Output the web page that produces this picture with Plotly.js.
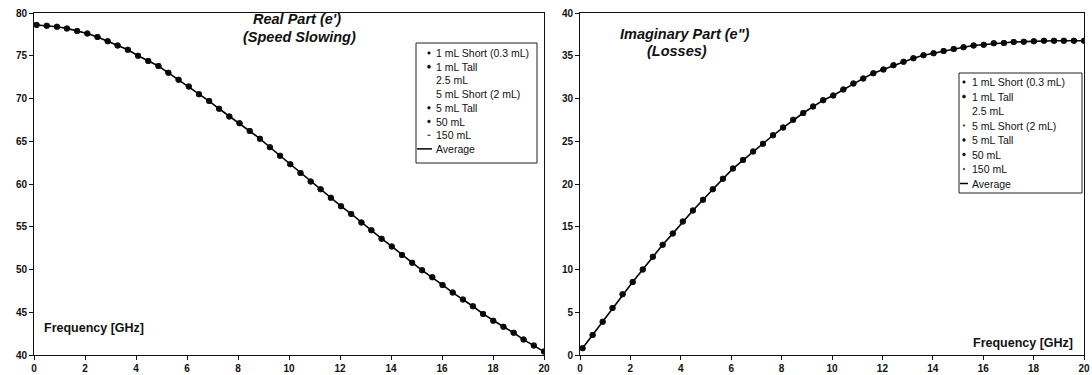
<!DOCTYPE html>
<html><head><meta charset="utf-8">
<script src="https://cdn.plot.ly/plotly-3.0.1.min.js"></script>
<style>html,body{margin:0;padding:0;background:#fff;}#c{width:1092px;height:375px;}</style>
</head><body><div id="c"></div>
<script>
const freq = [0.1,0.5,0.9,1.29,1.69,2.09,2.49,2.89,3.28,3.68,4.08,4.48,4.88,5.27,5.67,6.07,6.47,6.87,7.26,7.66,8.06,8.46,8.86,9.25,9.65,10.05,10.45,10.85,11.24,11.64,12.04,12.44,12.84,13.23,13.63,14.03,14.43,14.83,15.22,15.62,16.02,16.42,16.82,17.21,17.61,18.01,18.41,18.81,19.2,19.6,20.0];
const realPart = [78.6,78.5,78.4,78.2,77.9,77.6,77.2,76.7,76.2,75.7,75.0,74.4,73.8,73.0,72.2,71.4,70.5,69.7,68.8,67.9,67.1,66.2,65.3,64.3,63.3,62.3,61.3,60.3,59.4,58.4,57.4,56.5,55.5,54.6,53.6,52.7,51.7,50.8,49.9,49.1,48.2,47.3,46.5,45.7,44.8,44.0,43.3,42.6,41.8,41.1,40.4];
const imagPart = [0.8,2.35,3.9,5.5,7.1,8.55,10.0,11.5,12.9,14.2,15.6,16.9,18.15,19.4,20.6,21.8,22.8,23.8,24.7,25.7,26.6,27.5,28.3,29.05,29.8,30.35,31.05,31.75,32.35,32.95,33.4,33.9,34.3,34.7,35.05,35.3,35.55,35.8,36.0,36.2,36.3,36.45,36.5,36.6,36.65,36.7,36.75,36.75,36.75,36.75,36.75];
const seriesNames = ["1 mL Short (0.3 mL)","1 mL Tall","2.5 mL","5 mL Short (2 mL)","5 mL Tall","50 mL","150 mL"];
const averageName = "Average";
const xTicks = [0,2,4,6,8,10,12,14,16,18,20];

// marker style per series: [symbol, size] ; size 0 = not visible
const seriesMarks = [["circle",3],["square",3],["circle",0],["circle",0],["x-thin-open",3],["circle",3.5],["line-ew-open",4]];
// legend glyph: dot radius, or 'dash'
const legLeftGlyph  = [1.3,1.6,0,0,1.4,1.4,'dash'];
const legRightGlyph = [1.3,1.6,0,0.8,1.4,1.4,0.8];

const traces = [];
function addSet(y, xa, ya){
  seriesNames.forEach((n,i)=>{
    traces.push({x:freq, y:y, xaxis:xa, yaxis:ya, name:n, mode:'markers', type:'scatter', showlegend:false,
      marker:{symbol:seriesMarks[i][0], size:seriesMarks[i][1], color:'#111', line:{color:'#111', width:seriesMarks[i][0].indexOf('open')>0?1:0}}, hoverinfo:'skip'});
  });
  traces.push({x:freq, y:y, xaxis:xa, yaxis:ya, name:averageName, mode:'lines', type:'scatter', showlegend:false,
    line:{color:'#000', width:1.6}, hoverinfo:'skip'});
}
addSet(realPart,'x','y');
addSet(imagPart,'x2','y2');

const W=1056, H=342, L=34, T=13;
const px = v => (v-L)/W, py = v => 1-(v-T)/H;
const FF = 'Arial, Liberation Sans, sans-serif';
const axFont = {family:FF, size:10, color:'#111', weight:'bold'};
const axBase = {showline:true, mirror:true, linecolor:'#111', linewidth:1, ticks:'outside', ticklen:4, tickcolor:'#111',
  showgrid:false, zeroline:false, tickfont:axFont, fixedrange:true, ticklabeloverflow:'allow'};
const tFont = {family:FF, size:14.5, color:'#111', weight:'bold', style:'italic'};
const fFont = {family:FF, size:12.5, color:'#111', weight:'bold'};
const lFont = {family:FF, size:10.5, color:'#111'};

const shapes = [], annotations = [];
function legendBox(x0, y0, x1, y1, glyphs, gx, tx, row0, step){
  shapes.push({type:'rect', xref:'paper', yref:'paper', x0:px(x0), x1:px(x1), y0:py(y0), y1:py(y1),
    line:{color:'#222', width:1}, fillcolor:'#fff', layer:'above'});
  const names = seriesNames.concat([averageName]);
  names.forEach((n,i)=>{
    const yy = row0 + i*step;
    annotations.push({xref:'paper', yref:'paper', x:px(tx), y:py(yy), xanchor:'left', yanchor:'middle',
      text:n, showarrow:false, font:lFont});
    if (i < glyphs.length){
      const g = glyphs[i];
      if (g === 'dash'){
        shapes.push({type:'line', xref:'paper', yref:'paper', x0:px(gx-1.5), x1:px(gx+1.5), y0:py(yy), y1:py(yy), line:{color:'#111', width:1}, layer:'above'});
      } else if (g > 0){
        shapes.push({type:'circle', xref:'paper', yref:'paper', x0:px(gx-g), x1:px(gx+g), y0:py(yy-g), y1:py(yy+g), fillcolor:'#111', line:{color:'#111', width:0.5}, layer:'above'});
      }
    } else {
      shapes.push({type:'line', xref:'paper', yref:'paper', x0:px(x0+1), x1:px(tx-2), y0:py(yy), y1:py(yy), line:{color:'#000', width:1.5}, layer:'above'});
    }
  });
}
legendBox(416, 43, 537, 163, legLeftGlyph, 429, 434, 53, 13.7);
legendBox(959, 73, 1082, 193, legRightGlyph, 964, 970, 82, 14.5);

annotations.push(
  {xref:'paper', yref:'paper', x:px(297), y:py(19), xanchor:'center', yanchor:'middle', text:"Real Part (e')", showarrow:false, font:tFont},
  {xref:'paper', yref:'paper', x:px(299), y:py(37), xanchor:'center', yanchor:'middle', text:"(Speed Slowing)", showarrow:false, font:tFont},
  {xref:'paper', yref:'paper', x:px(685), y:py(34), xanchor:'center', yanchor:'middle', text:'Imaginary Part (e")', showarrow:false, font:tFont},
  {xref:'paper', yref:'paper', x:px(677), y:py(51.5), xanchor:'center', yanchor:'middle', text:"(Losses)", showarrow:false, font:tFont},
  {xref:'paper', yref:'paper', x:px(94), y:py(328), xanchor:'center', yanchor:'middle', text:"Frequency [GHz]", showarrow:false, font:fFont},
  {xref:'paper', yref:'paper', x:px(1023), y:py(343), xanchor:'center', yanchor:'middle', text:"Frequency [GHz]", showarrow:false, font:fFont}
);

const layout = {
  width:1092, height:375, margin:{l:L, r:2, t:T, b:20}, paper_bgcolor:'#fff', plot_bgcolor:'#fff', showlegend:false,
  xaxis:Object.assign({}, axBase, {domain:[0, px(544)], range:[0,20], tickvals:xTicks, anchor:'y'}),
  yaxis:Object.assign({}, axBase, {domain:[0,1], range:[40,80], dtick:5, anchor:'x'}),
  xaxis2:Object.assign({}, axBase, {domain:[px(580), px(1084)], range:[0,20], tickvals:xTicks, anchor:'y2'}),
  yaxis2:Object.assign({}, axBase, {domain:[0,1], range:[0,40], dtick:5, anchor:'x2'}),
  shapes:shapes, annotations:annotations
};
Plotly.newPlot('c', traces, layout, {staticPlot:true, displayModeBar:false});
</script></body></html>
